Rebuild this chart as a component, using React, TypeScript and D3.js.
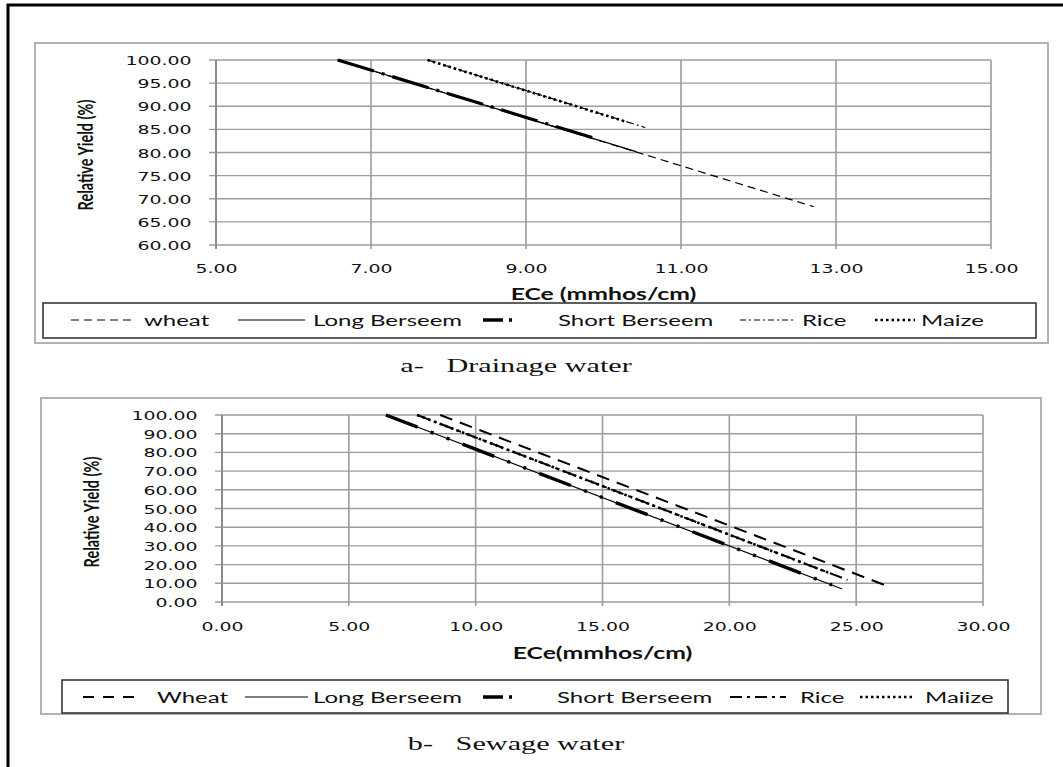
import React, { useEffect, useRef } from "react";
import * as d3 from "d3";

type Pt = [number, number];

// a- Drainage water
const drainXTicks = [5, 7, 9, 11, 13, 15];
const drainYTicks = [60, 65, 70, 75, 80, 85, 90, 95, 100];
const drainWheat: Pt[] = [[6.57, 100], [12.71, 68.3]];
const drainLongBerseem: Pt[] = [[6.57, 100], [10.42, 80.2]];
const drainShortBerseem: Pt[] = [[6.57, 100], [9.88, 83.1]];
const drainRice: Pt[] = [[7.73, 100], [10.54, 85.4]];
const drainMaize: Pt[] = [[7.73, 100], [10.3, 86.6]];
const drainNames = ["wheat", "Long Berseem", "Short Berseem", "Rice", "Maize"];

// b- Sewage water
const sewXTicks = [0, 5, 10, 15, 20, 25, 30];
const sewYTicks = [0, 10, 20, 30, 40, 50, 60, 70, 80, 90, 100];
const sewWheat: Pt[] = [[8.6, 100], [26.36, 7.85]];
const sewLongBerseem: Pt[] = [[6.46, 100], [24.45, 6.95]];
const sewShortBerseem: Pt[] = [[6.46, 100], [24.05, 9.1]];
const sewRice: Pt[] = [[7.69, 100], [24.66, 11.8]];
const sewMaize: Pt[] = [[7.69, 100], [23.9, 15.7]];
const sewNames = ["Wheat", "Long Berseem", "Short Berseem", "Rice", "Maiize"];

const W = 1063;
const H = 767;
const SX = 1.5; // the source figure is stretched sideways
const TICK_FONT = "'DejaVu Sans', Verdana, sans-serif";
const SANS = "Lato, 'Open Sans', sans-serif";
const SERIF = "'Liberation Serif', 'Times New Roman', serif";

const panels = [
  {
    series: [drainWheat, drainLongBerseem, drainShortBerseem, drainRice, drainMaize],
    names: drainNames,
    xTicks: drainXTicks,
    yTicks: drainYTicks,
    xDomain: [5, 15],
    yDomain: [60, 100],
    plot: { left: 216, right: 991, top: 60, bottom: 245 },
    box: { x: 35, y: 43, w: 1013, h: 300 },
    legendBox: { x: 43, y: 303, w: 993, h: 35 },
    tickY: 268,
    xTitleY: 293,
    legendY: 320,
    captionY: 365,
    yTitle: { x: 85, y: 155 },
    xTitle: "ECe (mmhos/cm)",
    caption: "a-   Drainage water",
    styles: [
      { w: 1.2, dash: "8,5" },
      { w: 1.2, dash: null },
      { w: 3.2, dash: "38,8,3,8" },
      { w: 1.2, dash: "8,3,2,3" },
      { w: 2.6, dash: "2.5,3" },
    ],
    legendSample: ["8,5", null, "20,6,3,40", "6,3,2,3", "2.5,3"],
    legendWidth: [1.2, 1.2, 3.4, 1.2, 2.6],
    legendPos: [
      [71, 136, 144],
      [238, 305, 313],
      [483, 515, 558],
      [740, 795, 802],
      [875, 915, 921],
    ],
  },
  {
    series: [sewWheat, sewLongBerseem, sewShortBerseem, sewRice, sewMaize],
    names: sewNames,
    xTicks: sewXTicks,
    yTicks: sewYTicks,
    xDomain: [0, 30],
    yDomain: [0, 100],
    plot: { left: 222, right: 983, top: 415, bottom: 602 },
    box: { x: 41, y: 398, w: 1000, h: 316 },
    legendBox: { x: 62, y: 680, w: 946, h: 33 },
    tickY: 626,
    xTitleY: 652,
    legendY: 697,
    captionY: 743,
    yTitle: { x: 91, y: 512 },
    xTitle: "ECe(mmhos/cm)",
    caption: "b-   Sewage water",
    styles: [
      { w: 2, dash: "13,8" },
      { w: 1.2, dash: null },
      { w: 3.4, dash: "34,14,3,14,3,14" },
      { w: 2, dash: "13,5,3,5" },
      { w: 2.6, dash: "2.5,3.5" },
    ],
    legendSample: ["11,9", null, "20,6,3,40", "12,5,3,5", "2.5,3"],
    legendWidth: [2.2, 1.2, 3.4, 2, 2.6],
    legendPos: [
      [83, 142, 157],
      [245, 308, 313],
      [483, 515, 557],
      [730, 786, 800],
      [860, 915, 925],
    ],
  },
];

function label(g: any, str: string, x: number, y: number, o: any) {
  return g
    .append("text")
    .attr("transform", `translate(${x},${y}) scale(${o.sx ?? SX},1)`)
    .attr("text-anchor", o.anchor ?? "start")
    .attr("dominant-baseline", "central")
    .style("font-family", o.family)
    .style("font-size", o.size + "px")
    .style("font-weight", o.weight ?? "normal")
    .attr("fill", "#111")
    .text(str);
}

export default function App() {
  const ref = useRef<SVGSVGElement>(null);

  useEffect(() => {
    const svg = d3.select(ref.current);
    svg.selectAll("*").remove();

    svg.append("rect").attr("width", W).attr("height", H).attr("fill", "#fff");

    panels.forEach((p) => {
      const g = svg.append("g");
      const x = d3.scaleLinear().domain(p.xDomain).range([p.plot.left, p.plot.right]);
      const y = d3.scaleLinear().domain(p.yDomain).range([p.plot.bottom, p.plot.top]);

      // chart area frame
      g.append("rect")
        .attr("x", p.box.x)
        .attr("y", p.box.y)
        .attr("width", p.box.w)
        .attr("height", p.box.h)
        .attr("fill", "#fff")
        .attr("stroke", "#b2b2b2")
        .attr("stroke-width", 2);

      // grid
      g.append("g")
        .selectAll("line")
        .data(p.yTicks)
        .join("line")
        .attr("x1", p.plot.left - 7)
        .attr("x2", p.plot.right)
        .attr("y1", (d) => y(d))
        .attr("y2", (d) => y(d))
        .attr("stroke", "#9c9c9c")
        .attr("stroke-width", 1.4);
      g.append("g")
        .selectAll("line")
        .data(p.xTicks)
        .join("line")
        .attr("x1", (d) => x(d))
        .attr("x2", (d) => x(d))
        .attr("y1", p.plot.top)
        .attr("y2", p.plot.bottom + 4)
        .attr("stroke", (d, i) => (i === 0 ? "#8a8a8a" : "#9c9c9c"))
        .attr("stroke-width", (d, i) => (i === 0 ? 2 : 1.6));

      // tick labels
      const fmt = d3.format(".2f");
      const ax = g
        .append("g")
        .attr("transform", `translate(0,${p.tickY})`)
        .call(d3.axisBottom(x).tickValues(p.xTicks).tickFormat(fmt as any).tickSize(0).tickPadding(0));
      ax.select(".domain").remove();
      const ay = g
        .append("g")
        .attr("transform", `translate(${p.plot.left},0)`)
        .call(d3.axisLeft(y).tickValues(p.yTicks).tickFormat(fmt as any).tickSize(0).tickPadding(16.3));
      ay.select(".domain").remove();
      [ax, ay].forEach((a) => {
        a.attr("font-family", TICK_FONT).attr("font-size", 12.6);
        a.selectAll("text")
          .attr("y", 0)
          .attr("dy", "0.36em")
          .attr("fill", "#111")
          .attr("transform", `scale(${SX},1)`);
      });

      // series
      const line = d3
        .line<Pt>()
        .x((d) => x(d[0]))
        .y((d) => y(d[1]));
      p.series.forEach((s, i) => {
        const st = p.styles[i];
        g.append("path")
          .attr("d", line(s))
          .attr("fill", "none")
          .attr("stroke", "#000")
          .attr("stroke-width", st.w)
          .attr("stroke-dasharray", st.dash)
          .attr("stroke-linecap", "butt");
      });

      // axis titles
      label(g, p.xTitle, (p.plot.left + p.plot.right) / 2, p.xTitleY, {
        size: 16.5,
        family: SANS,
        weight: "bold",
        anchor: "middle",
      });
      g.append("text")
        .attr("transform", `translate(${p.yTitle.x},${p.yTitle.y}) rotate(-90) scale(1,${SX})`)
        .attr("text-anchor", "middle")
        .attr("dominant-baseline", "central")
        .style("font-family", SANS)
        .style("font-size", "14.5px")
        .style("font-weight", "bold")
        .attr("fill", "#111")
        .text("Relative Yield (%)");

      // legend
      g.append("rect")
        .attr("x", p.legendBox.x)
        .attr("y", p.legendBox.y)
        .attr("width", p.legendBox.w)
        .attr("height", p.legendBox.h)
        .attr("fill", "#fff")
        .attr("stroke", "#2b2b2b")
        .attr("stroke-width", 1.5);
      p.names.forEach((name, i) => {
        const [a, b, t] = p.legendPos[i];
        g.append("line")
          .attr("x1", a)
          .attr("x2", b)
          .attr("y1", p.legendY)
          .attr("y2", p.legendY)
          .attr("stroke", "#000")
          .attr("stroke-width", p.legendWidth[i])
          .attr("stroke-dasharray", p.legendSample[i]);
        label(g, name, t, p.legendY, { size: 16, family: SANS });
      });

      // caption under the panel
      label(g, p.caption, 516, p.captionY, {
        size: 19.5,
        family: SERIF,
        anchor: "middle",
        sx: 1.55,
      }).attr("xml:space", "preserve").style("white-space", "pre");
    });

    // outer black frame (cut off at right and bottom)
    svg.append("rect")
      .attr("x", 8)
      .attr("y", 5)
      .attr("width", W + 20)
      .attr("height", H + 20)
      .attr("fill", "none")
      .attr("stroke", "#000")
      .attr("stroke-width", 3);
  }, []);

  return (
    <svg
      ref={ref}
      width={W}
      height={H}
      style={{ position: "absolute", left: 0, top: 0, display: "block" }}
    />
  );
}
